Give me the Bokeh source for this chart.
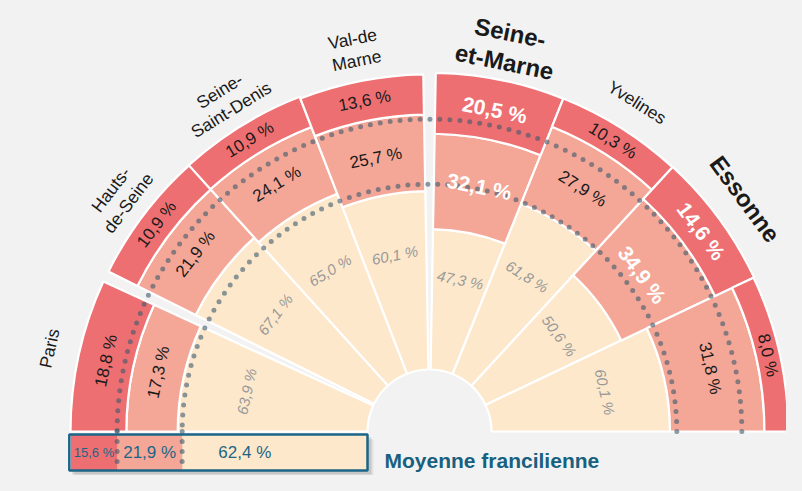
import numpy as np
from bokeh.plotting import figure
from bokeh.models import Range1d, ColumnDataSource
from bokeh.core.properties import value
from bokeh.embed import file_html
from bokeh.resources import INLINE

# ---------------- data ----------------
departements = ["Paris", "Hauts-de-Seine", "Seine-Saint-Denis", "Val-de-Marne",
                "Seine-et-Marne", "Yvelines", "Essonne", "Val-d'Oise"]
etiquettes = ["Paris", "Hauts-\nde-Seine", "Seine-\nSaint-Denis", "Val-de\nMarne",
              "Seine-\net-Marne", "Yvelines", "Essonne", "Val-d'Oise"]
part_interieure = [63.9, 67.1, 65.0, 60.1, 47.3, 61.8, 50.6, 60.1]
part_mediane = [17.3, 21.9, 24.1, 25.7, 32.1, 27.9, 34.9, 31.8]
part_exterieure = [18.8, 10.9, 10.9, 13.6, 20.5, 10.3, 14.6, 8.0]
mis_en_avant = [False, False, False, False, True, False, True, False]
moyenne_labels = ["62,4 %", "21,9 %", "15,6 %"]
moyenne = [62.4, 21.9, 15.6]
titre_moyenne = "Moyenne francilienne"

# ---------------- layout ----------------
angle_debut = [155.3, 132.1, 111.2, 91.0, 68.1, 47.4, 25.4, 0.0]
angle_fin = [180.0, 153.5, 132.1, 111.2, 89.0, 68.1, 47.4, 25.4]

BG = "#f2f2f2"
C_IN, C_MID, C_OUT = "#fde8cb", "#f4a797", "#ee6f71"
TEAL = "#1b6688"
DOT = "#3c5a6e"
FONT = "Liberation Sans"

W, H = 786, 475
IMG_H = 491
def Y(img_y):
    return IMG_H - img_y

CX, CY = 437.0, Y(439)
R0, K = 62.0, 2.97
def rad(pct):
    return R0 + K * np.asarray(pct, dtype=float)

def fmt(v):
    return f"{v:.1f}".replace(".", ",") + " %"

p = figure(width=W, height=H, x_range=Range1d(8, 794), y_range=Range1d(8, 483),
           output_backend="svg", toolbar_location=None, min_border=0,
           x_axis_location=None, y_axis_location=None,
           background_fill_color=BG, border_fill_color=BG, outline_line_color=None)
p.grid.visible = False

a0 = np.radians(angle_debut)
a1 = np.radians(angle_fin)
amid = (a0 + a1) / 2

cum0 = np.zeros(len(departements))
cum1 = np.array(part_interieure)
cum2 = cum1 + np.array(part_mediane)
cum3 = cum2 + np.array(part_exterieure)

layers = [(cum0, cum1, C_IN, part_interieure), (cum1, cum2, C_MID, part_mediane),
          (cum2, cum3, C_OUT, part_exterieure)]
for lo, hi, col, vals in layers:
    src = ColumnDataSource(dict(x=[CX] * len(lo), y=[CY] * len(lo), ri=rad(lo), ro=rad(hi),
                                s=a0, e=a1))
    p.annular_wedge(x="x", y="y", inner_radius="ri", outer_radius="ro",
                    start_angle="s", end_angle="e", source=src,
                    fill_color=col, line_color="white", line_width=2.2)

# dotted circles (average)
avg_cum = [moyenne[0], moyenne[0] + moyenne[1]]
for c in avg_cum:
    p.arc(x=CX, y=CY, radius=float(rad(c)), start_angle=0, end_angle=np.pi,
          line_color=DOT, line_alpha=0.6, line_width=5, line_dash="0 10", line_cap="round")

# segment labels
for li, (lo, hi, col, vals) in enumerate(layers):
    xs, ys, txt, ang, colors, sizes, styles = [], [], [], [], [], [], []
    for i in range(len(departements)):
        ri, ro = rad(lo[i]), rad(hi[i])
        if li == 0:
            r = ri + 0.66 * (ro - ri)
        else:
            r = (ri + ro) / 2
        xs.append(CX + r * np.cos(amid[i]))
        ys.append(CY + r * np.sin(amid[i]))
        txt.append(fmt(vals[i]))
        ang.append(amid[i] - np.pi / 2)
        if li == 0:
            colors.append("#999999"); sizes.append("15px"); styles.append("italic")
        elif mis_en_avant[i]:
            colors.append("white"); sizes.append("21px"); styles.append("bold")
        else:
            colors.append("#1a1a1a"); sizes.append("17px"); styles.append("normal")
    src = ColumnDataSource(dict(x=xs, y=ys, t=txt, a=ang, c=colors, fs=sizes, st=styles))
    p.text(x="x", y="y", text="t", angle="a", source=src, text_color="c",
           text_font_size="fs", text_font_style="st", text_font=value(FONT),
           text_align="center", text_baseline="middle")

# department labels
xs, ys, ang, sizes, styles = [], [], [], [], []
for i in range(len(departements)):
    r = 392 if mis_en_avant[i] else 389
    xs.append(CX + r * np.cos(amid[i]))
    ys.append(CY + r * np.sin(amid[i]))
    ang.append(amid[i] - np.pi / 2)
    sizes.append("24px" if mis_en_avant[i] else "17.5px")
    styles.append("bold" if mis_en_avant[i] else "normal")
src = ColumnDataSource(dict(x=xs, y=ys, t=etiquettes, a=ang, fs=sizes, st=styles))
p.text(x="x", y="y", text="t", angle="a", source=src, text_color="#1a1a1a",
       text_font_size="fs", text_font_style="st", text_font=value(FONT),
       text_align="center", text_baseline="middle", text_line_height=1.1)

# ---------------- legend (average) ----------------
top, bot = Y(442), Y(478)
edges = [0.0, moyenne[0], moyenne[0] + moyenne[1], moyenne[0] + moyenne[1] + moyenne[2]]
xe = [float(CX - rad(e)) for e in edges]
left_all, right_all = xe[-1] - 1.5, xe[0]
# shadow
p.quad(left=left_all + 5, right=right_all + 6, top=top - 5, bottom=bot - 6,
       fill_color="black", fill_alpha=0.06, line_color=None)
p.quad(left=left_all + 3, right=right_all + 4, top=top - 3, bottom=bot - 4,
       fill_color="black", fill_alpha=0.12, line_color=None)
cols = [C_IN, C_MID, C_OUT]
p.quad(left=[xe[k + 1] for k in range(3)], right=[xe[k] for k in range(3)],
       top=top, bottom=bot, fill_color=cols, line_color=None)
p.quad(left=left_all, right=right_all, top=top, bottom=bot, fill_color=None,
       line_color=TEAL, line_width=2.5)
for xl in xe[1:3]:
    p.segment(x0=xl, y0=CY, x1=xl, y1=bot + 1, line_color=DOT, line_alpha=0.6,
              line_width=5, line_dash="0 10", line_cap="round")
leg_x = [(xe[0] + xe[1]) / 2 - 30, (xe[1] + xe[2]) / 2, (xe[2] + xe[3]) / 2]
leg_size = ["17px", "17px", "13px"]
src = ColumnDataSource(dict(x=leg_x, y=[(top + bot) / 2] * 3, t=moyenne_labels, fs=leg_size))
p.text(x="x", y="y", text="t", source=src, text_color=TEAL,
       text_font_size="fs", text_font=value(FONT), text_align="center",
       text_baseline="middle")
p.text(x=[392], y=[Y(468)], text=[titre_moyenne], text_color="#17607f",
       text_font_size="21px", text_font_style="bold", text_font=value(FONT),
       text_align="left", text_baseline="middle")

html = file_html(p, INLINE)
html = html.replace("</head>", "<style>body{background:#f2f2f2;}</style></head>", 1)
open("out.html", "w").write(html)
